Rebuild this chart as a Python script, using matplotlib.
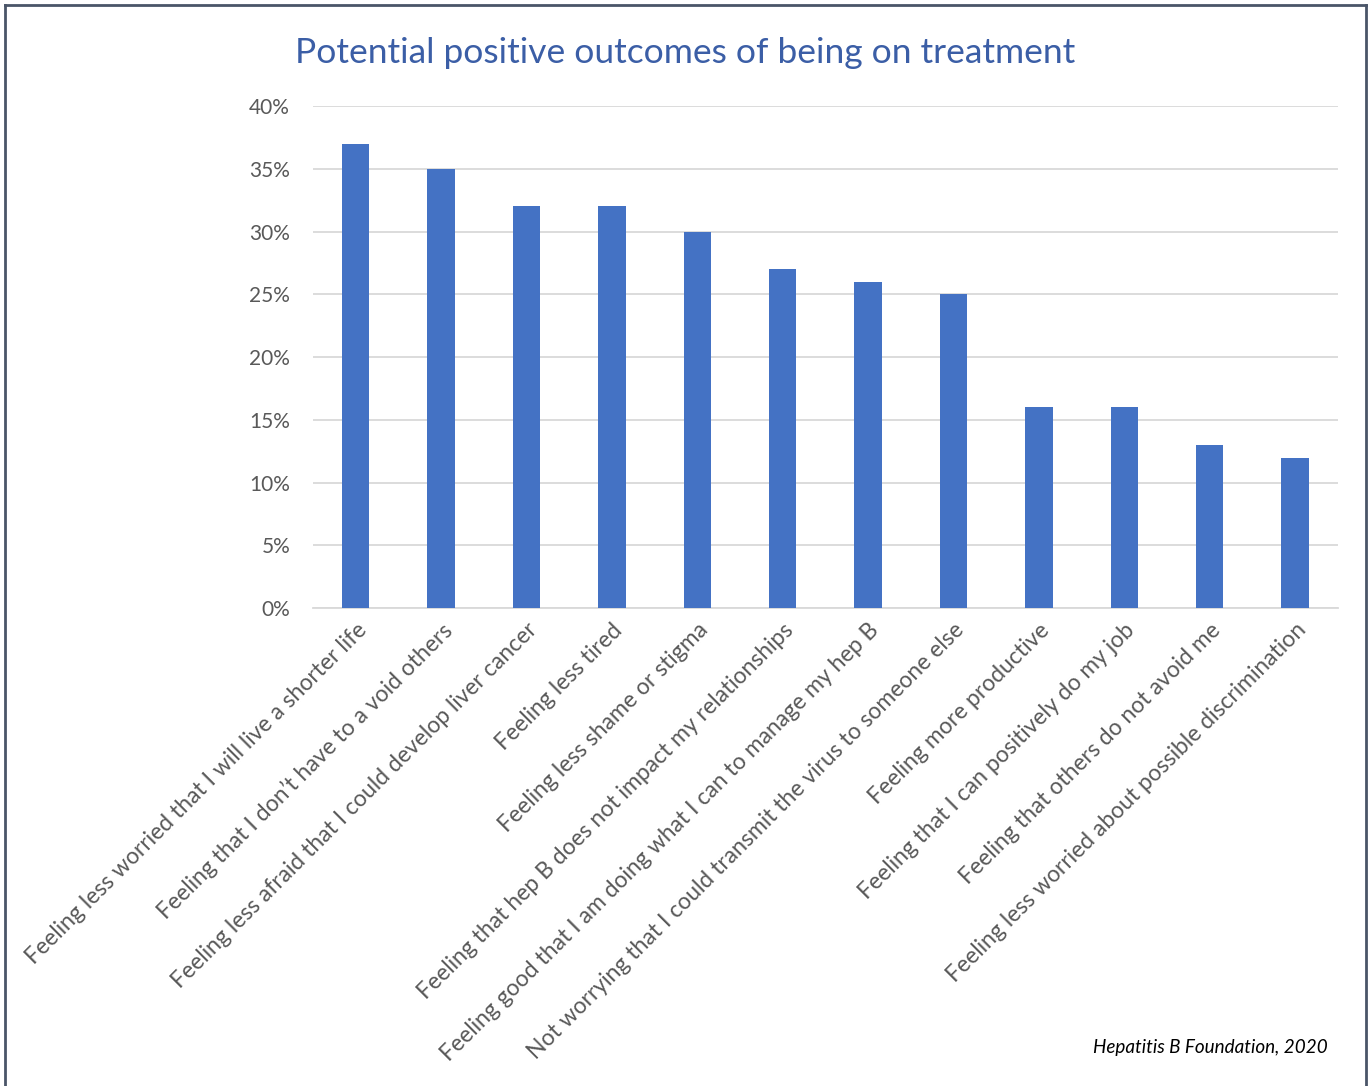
import matplotlib.pyplot as plt
from matplotlib.lines import Line2D
from matplotlib.ticker import FuncFormatter

# Данные с графика
categories = [
    'Feeling less worried that I will live a shorter life',
    'Feeling that I don’t have to a void others',
    'Feeling less afraid that I could develop liver cancer',
    'Feeling less tired',
    'Feeling less shame or stigma',
    'Feeling that hep B does not impact my relationships',
    'Feeling good that I am doing what I can to manage my hep B',
    'Not worrying that I could transmit the virus to someone else',
    'Feeling more productive',
    'Feeling that I can positively do my job',
    'Feeling that others do not avoid me',
    'Feeling less worried about possible discrimination',
]
values = [37, 35, 32, 32, 30, 27, 26, 25, 16, 16, 13, 12]
y_ticks = [0, 5, 10, 15, 20, 25, 30, 35, 40]

title = 'Potential positive outcomes of being on treatment'
source = 'Hepatitis B Foundation, 2020'

plt.rcParams['font.family'] = ['Lato', 'DejaVu Sans']

fig = plt.figure(figsize=(13.7, 10.86), dpi=100)
ax = fig.add_axes([0.2285, 0.440, 0.748, 0.4624])

x = range(len(categories))
ax.bar(x, values, width=0.32, color='#4472C4', zorder=3)

ax.set_xlim(-0.5, len(categories) - 0.5)
ax.set_ylim(0, 40)
ax.set_yticks(y_ticks)
ax.yaxis.set_major_formatter(FuncFormatter(lambda v, p: f'{v:.0f}%'))
ax.grid(axis='y', color='#D9D9D9', linewidth=1.3, zorder=0)

for side in ['top', 'right', 'left']:
    ax.spines[side].set_visible(False)
ax.spines['bottom'].set_color('#D9D9D9')
ax.spines['bottom'].set_linewidth(1.3)

ax.tick_params(axis='y', length=0, pad=16.5, labelsize=15, labelcolor='#595959')
ax.tick_params(axis='x', length=0, pad=8)
ax.set_xticks(list(x))
ax.set_xticklabels(categories, rotation=45, ha='right', rotation_mode='anchor',
                   fontsize=16.5, color='#595959')

fig.text(0.5, 0.951, title, ha='center', va='center', fontsize=25.5, color='#3B5EA6')
fig.text(0.969, 0.035, source, ha='right', va='center', fontsize=13.6,
         style='italic', color='black')

# Рамка вокруг рисунка
bc = '#4A5568'
fig.add_artist(Line2D([5 / 1370, 5 / 1370], [0, 1 - 5 / 1086], color=bc, linewidth=2))
fig.add_artist(Line2D([1366 / 1370, 1366 / 1370], [0, 1 - 5 / 1086], color=bc, linewidth=2))
fig.add_artist(Line2D([5 / 1370, 1366 / 1370], [1 - 5 / 1086, 1 - 5 / 1086], color=bc, linewidth=2))

fig.savefig('out.png', dpi=100)
